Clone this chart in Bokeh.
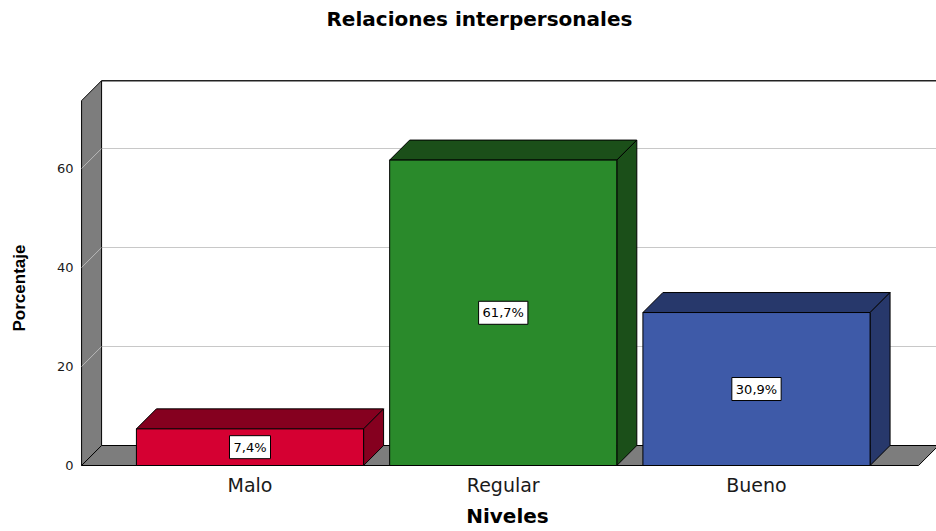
import math
from bokeh.plotting import figure
from bokeh.models import Range1d, FixedTicker, Label, Title
from bokeh.embed import file_html
from bokeh.resources import INLINE

# ---- data ----
categories = ["Malo", "Regular", "Bueno"]
percentages = [7.4, 61.7, 30.9]
y_ticks = [0, 20, 40, 60]
front_colors = ["#D50032", "#2A8A2B", "#3E5AA8"]
shade_colors = ["#85001F", "#1B4F19", "#27386B"]

title_text = "Relaciones interpersonales"
x_title = "Niveles"
y_title = "Porcentaje"

# ---- layout ----
W, H = 936, 531
BL, BB = 78, 65
FW, FH = W - BL, H - BB
X0, X1 = -0.6772, 2.7108
Y0, Y1 = -0.202, 93.94
x_lo, x_hi, y_hi = -0.665, 2.64, 73.7
bar_w = 0.897
depth_px = 20
dxu = depth_px * (X1 - X0) / FW
dyu = depth_px * (Y1 - Y0) / FH

p = figure(width=W, height=H, x_range=Range1d(X0, X1), y_range=Range1d(Y0, Y1),
           output_backend="svg", toolbar_location=None, title=None,
           min_border_left=BL, min_border_right=0, min_border_top=0,
           min_border_bottom=BB)
p.outline_line_color = None
p.grid.visible = False
p.background_fill_color = "white"
p.border_fill_color = "white"

# axes
p.xaxis.ticker = FixedTicker(ticks=list(range(len(categories))))
p.xaxis.major_label_overrides = {i: c for i, c in enumerate(categories)}
p.yaxis.ticker = FixedTicker(ticks=y_ticks)
for ax in (p.xaxis, p.yaxis):
    ax.axis_line_color = None
    ax.major_tick_line_color = None
    ax.minor_tick_line_color = None
    ax.major_tick_in = 0
    ax.major_tick_out = 0
    ax.minor_tick_in = 0
    ax.minor_tick_out = 0
    ax.major_label_text_font = "DejaVu Sans"
    ax.major_label_text_color = "#1a1a1a"
p.xaxis.major_label_text_font_size = "19px"
p.xaxis.major_label_standoff = 7
p.xaxis.axis_label = x_title
p.xaxis.axis_label_text_font = "DejaVu Sans"
p.xaxis.axis_label_text_font_style = "bold"
p.xaxis.axis_label_text_font_size = "20px"
p.xaxis.axis_label_text_color = "black"
p.xaxis.axis_label_standoff = 5

p.yaxis.major_label_text_font_size = "13px"
p.yaxis.major_label_standoff = 5

# y-axis title as a side-panel title (placed over the wall like the original)
ylab = Title(text=y_title + "\n", align="left", offset=135, vertical_align="top",
             text_font="Liberation Sans", text_font_style="bold",
             text_font_size="17px", text_color="black")
if "standoff" in Title.properties():
    ylab.standoff = 8
p.add_layout(ylab, "left")

far_x = X1 + 1.0
wall_gray = "#7D7D7D"

# back wall
p.patch([x_lo + dxu, far_x, far_x, x_lo + dxu], [dyu, dyu, y_hi + dyu, y_hi + dyu],
        fill_color="white", line_color=None)
gt = y_ticks[1:]
p.segment(x0=[x_lo + dxu] * len(gt), y0=[t + dyu for t in gt],
          x1=[far_x] * len(gt), y1=[t + dyu for t in gt],
          line_color="#C8C8C8", line_width=1)
p.segment(x0=[x_lo + dxu], y0=[y_hi + dyu], x1=[far_x], y1=[y_hi + dyu],
          line_color="#222222", line_width=1.5)
# left wall
p.patch([x_lo, x_lo, x_lo + dxu, x_lo + dxu], [0, y_hi, y_hi + dyu, dyu],
        fill_color=wall_gray, line_color="black", line_width=1)
p.segment(x0=[x_lo] * len(gt), y0=gt, x1=[x_lo + dxu] * len(gt),
          y1=[t + dyu for t in gt], line_color="#B8B8B8", line_width=1)
# floor
p.patch([x_lo, x_hi, x_hi + dxu, x_lo + dxu], [0, 0, dyu, dyu],
        fill_color=wall_gray, line_color="black", line_width=1)

# bars
fx, fy, tx, ty, sxs, sys_ = [], [], [], [], [], []
for i, v in enumerate(percentages):
    a, b = i - bar_w / 2, i + bar_w / 2
    fx.append([a, b, b, a]); fy.append([0, 0, v, v])
    tx.append([a, b, b + dxu, a + dxu]); ty.append([v, v, v + dyu, v + dyu])
    sxs.append([b, b + dxu, b + dxu, b]); sys_.append([0, dyu, v + dyu, v])
p.patches(tx, ty, fill_color=shade_colors, line_color="black", line_width=1)
p.patches(sxs, sys_, fill_color=shade_colors, line_color="black", line_width=1)
p.patches(fx, fy, fill_color=front_colors, line_color="black", line_width=1)

# value labels
for i, v in enumerate(percentages):
    txt = f"{v:.1f}".replace(".", ",") + "%"
    p.add_layout(Label(x=i, y=v / 2, text=txt, text_align="center",
                       text_baseline="middle", text_font="DejaVu Sans",
                       text_font_size="13px", text_color="black",
                       background_fill_color="white", border_line_color="black",
                       border_line_width=1, padding=4))

# chart title
p.add_layout(Label(x=0.906, y=90.3, text=title_text, text_align="center",
                   text_baseline="middle", text_font="DejaVu Sans",
                   text_font_style="bold", text_font_size="20px", text_color="black"))

open("out.html", "w").write(file_html(p, INLINE))
